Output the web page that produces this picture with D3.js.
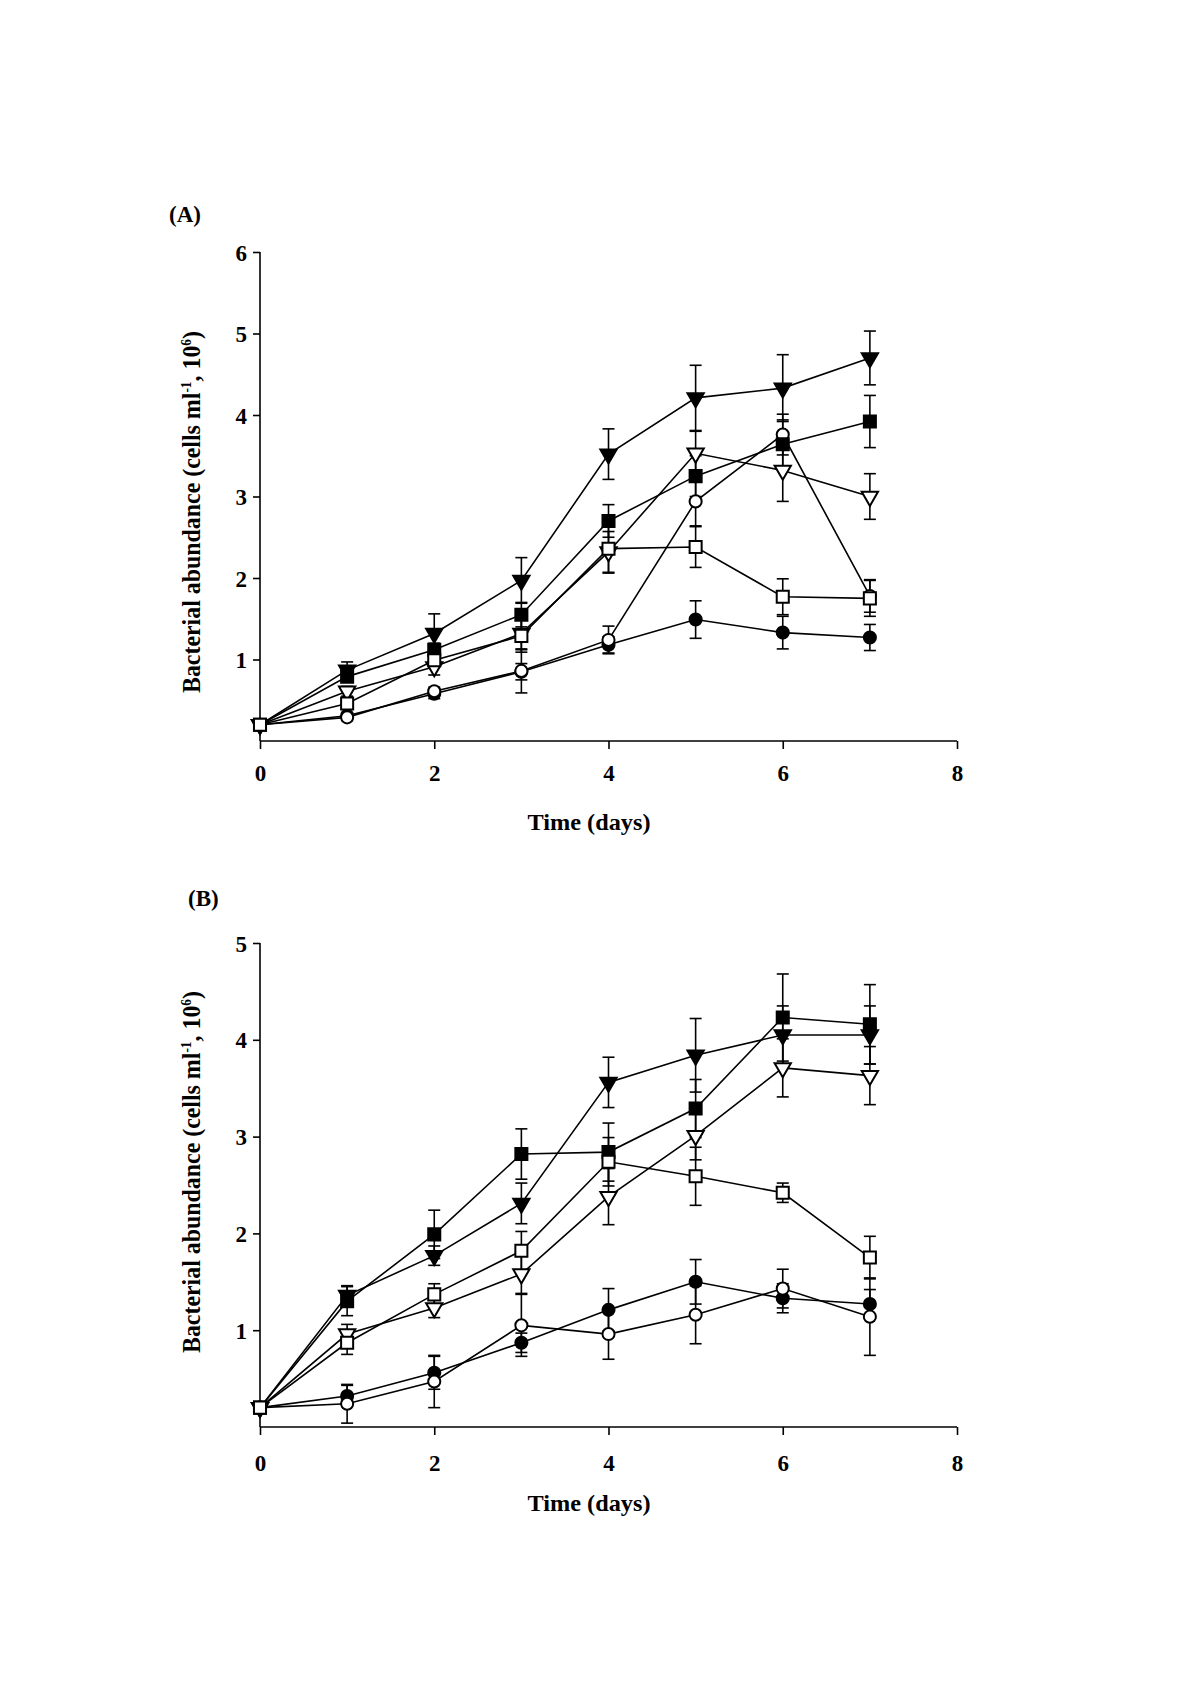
<!DOCTYPE html>
<html>
<head>
<meta charset="utf-8">
<script src="https://cdn.jsdelivr.net/npm/d3@7"></script>
<style>
  html, body { margin: 0; padding: 0; background: #fff; }
  svg { display: block; }
  text { font-family: "Liberation Serif", "Times New Roman", serif; font-weight: bold; fill: #000; }
</style>
</head>
<body>
<svg id="chart" width="1196" height="1694"></svg>
<script>
// ---------- data ----------
const days = [0, 1, 2, 3, 4, 5, 6, 7];
const xTicks = [0, 2, 4, 6, 8];
const yTicksA = [1, 2, 3, 4, 5, 6];
const yTicksB = [1, 2, 3, 4, 5];
const panelLabels = ["(A)", "(B)"];
const xTitle = "Time (days)";

// Panel A series (mean, error)
const aFilledCircle     = [0.20, 0.31, 0.58, 0.85, 1.18, 1.49, 1.33, 1.27];
const aFilledCircleErr  = [0.02, 0.04, 0.06, 0.10, 0.10, 0.23, 0.20, 0.16];
const aOpenCircle       = [0.20, 0.29, 0.61, 0.86, 1.24, 2.94, 3.76, 1.78];
const aOpenCircleErr    = [0.02, 0.04, 0.05, 0.27, 0.17, 0.30, 0.25, 0.20];
const aFilledSquare     = [0.20, 0.79, 1.12, 1.55, 2.70, 3.25, 3.64, 3.92];
const aFilledSquareErr  = [0.02, 0.06, 0.08, 0.15, 0.20, 0.25, 0.30, 0.32];
const aOpenSquare       = [0.20, 0.46, 0.99, 1.29, 2.36, 2.38, 1.77, 1.75];
const aOpenSquareErr    = [0.02, 0.05, 0.08, 0.20, 0.30, 0.25, 0.22, 0.22];
const aFilledTriangle   = [0.20, 0.87, 1.32, 1.97, 3.52, 4.21, 4.33, 4.70];
const aFilledTriangleErr= [0.02, 0.10, 0.24, 0.28, 0.31, 0.40, 0.41, 0.33];
const aOpenTriangle     = [0.20, 0.61, 0.91, 1.32, 2.32, 3.53, 3.32, 3.00];
const aOpenTriangleErr  = [0.02, 0.06, 0.10, 0.20, 0.25, 0.27, 0.38, 0.28];

// Panel B series (mean, error)
const bFilledCircle     = [0.20, 0.32, 0.56, 0.87, 1.21, 1.50, 1.33, 1.27];
const bFilledCircleErr  = [0.02, 0.11, 0.17, 0.10, 0.22, 0.23, 0.15, 0.15];
const bOpenCircle       = [0.20, 0.24, 0.47, 1.05, 0.96, 1.16, 1.43, 1.14];
const bOpenCircleErr    = [0.02, 0.20, 0.27, 0.32, 0.26, 0.30, 0.20, 0.40];
const bFilledSquare     = [0.20, 1.30, 1.99, 2.82, 2.84, 3.29, 4.23, 4.16];
const bFilledSquareErr  = [0.02, 0.15, 0.25, 0.26, 0.30, 0.30, 0.45, 0.41];
const bOpenSquare       = [0.20, 0.87, 1.37, 1.82, 2.74, 2.59, 2.42, 1.75];
const bOpenSquareErr    = [0.02, 0.12, 0.11, 0.20, 0.25, 0.30, 0.10, 0.22];
const bFilledTriangle   = [0.20, 1.36, 1.77, 2.31, 3.56, 3.84, 4.05, 4.05];
const bFilledTriangleErr= [0.02, 0.10, 0.10, 0.21, 0.26, 0.38, 0.30, 0.30];
const bOpenTriangle     = [0.20, 0.96, 1.23, 1.58, 2.38, 3.01, 3.71, 3.63];
const bOpenTriangleErr  = [0.02, 0.10, 0.10, 0.20, 0.29, 0.25, 0.30, 0.30];

// ---------- drawing ----------
const svg = d3.select("#chart");

function seriesList(fc, fce, oc, oce, fs, fse, os, ose, ft, fte, ot, ote) {
  // order = drawing order of markers (open square ends on top, as in the original)
  return [
    { shape: "circle", filled: true,  v: fc, e: fce },
    { shape: "circle", filled: false, v: oc, e: oce },
    { shape: "tri",    filled: false, v: ot, e: ote },
    { shape: "tri",    filled: true,  v: ft, e: fte },
    { shape: "square", filled: true,  v: fs, e: fse },
    { shape: "square", filled: false, v: os, e: ose }
  ];
}

const panels = [
  {
    label: panelLabels[0], labelX: 169, labelY: 222,
    yMax: 6, yTicks: yTicksA,
    top: 252, bottom: 741,
    xTickLabelY: 781, titleY: 830, ylabelCY: 512,
    series: seriesList(aFilledCircle, aFilledCircleErr, aOpenCircle, aOpenCircleErr,
                       aFilledSquare, aFilledSquareErr, aOpenSquare, aOpenSquareErr,
                       aFilledTriangle, aFilledTriangleErr, aOpenTriangle, aOpenTriangleErr)
  },
  {
    label: panelLabels[1], labelX: 188, labelY: 906,
    yMax: 5, yTicks: yTicksB,
    top: 943, bottom: 1427,
    xTickLabelY: 1471, titleY: 1511, ylabelCY: 1172,
    series: seriesList(bFilledCircle, bFilledCircleErr, bOpenCircle, bOpenCircleErr,
                       bFilledSquare, bFilledSquareErr, bOpenSquare, bOpenSquareErr,
                       bFilledTriangle, bFilledTriangleErr, bOpenTriangle, bOpenTriangleErr)
  }
];

const left = 260, right = 957;
const fontFam = "'Liberation Serif', 'Times New Roman', serif";

panels.forEach(p => {
  const x = d3.scaleLinear().domain([0, 8]).range([left, right]);
  const y = d3.scaleLinear().domain([0, p.yMax]).range([p.bottom, p.top]);
  const g = svg.append("g");

  // panel label
  g.append("text").attr("x", p.labelX).attr("y", p.labelY)
    .attr("font-size", 23).text(p.label);

  // x axis
  const xAxis = d3.axisBottom(x).tickValues(xTicks).tickSize(8).tickFormat(d3.format("d"));
  const gx = g.append("g").attr("transform", `translate(0,${p.bottom})`).call(xAxis);
  gx.select(".domain").attr("stroke", "#000").attr("stroke-width", 1.6).attr("d", `M${left},0H${right}`);
  gx.selectAll(".tick line").attr("stroke", "#000").attr("stroke-width", 1.6);
  gx.selectAll(".tick text").attr("font-size", 23).attr("y", 0).attr("dy", 0)
    .attr("transform", `translate(0,${p.xTickLabelY - p.bottom})`)
    .style("font-family", fontFam).style("font-weight", "bold");

  // y axis
  const yAxis = d3.axisLeft(y).tickValues(p.yTicks).tickSize(7).tickFormat(d3.format("d"));
  const gy = g.append("g").attr("transform", `translate(${left},0)`).call(yAxis);
  gy.select(".domain").attr("stroke", "#000").attr("stroke-width", 1.6).attr("d", `M0,${p.top}V${p.bottom}`);
  gy.selectAll(".tick line").attr("stroke", "#000").attr("stroke-width", 1.6);
  gy.selectAll(".tick text").attr("font-size", 23).attr("x", -13).attr("dy", "0.35em")
    .style("font-family", fontFam).style("font-weight", "bold");

  // x title
  g.append("text").attr("x", 589).attr("y", p.titleY).attr("text-anchor", "middle")
    .attr("font-size", 23).attr("textLength", 123).attr("lengthAdjust", "spacingAndGlyphs")
    .text(xTitle);

  // y title (rotated)
  const yt = g.append("text")
    .attr("transform", `translate(200,${p.ylabelCY}) rotate(-90)`)
    .attr("text-anchor", "middle")
    .attr("font-size", 25)
    .attr("textLength", 362).attr("lengthAdjust", "spacingAndGlyphs");
  yt.append("tspan").text("Bacterial abundance (cells ml");
  yt.append("tspan").attr("font-size", 14).attr("dy", -9).text("-1");
  yt.append("tspan").attr("dy", 9).text(", 10");
  yt.append("tspan").attr("font-size", 14).attr("dy", -9).text("6");
  yt.append("tspan").attr("dy", 9).text(")");

  const line = d3.line().x((d, i) => x(days[i])).y(d => y(d));

  // lines
  p.series.forEach(s => {
    g.append("path").attr("d", line(s.v)).attr("fill", "none")
      .attr("stroke", "#000").attr("stroke-width", 1.6);
  });

  // error bars
  p.series.forEach(s => {
    const eb = g.append("g");
    s.v.forEach((v, i) => {
      const cx = x(days[i]);
      const y1 = y(v + s.e[i]), y2 = y(v - s.e[i]);
      eb.append("line").attr("x1", cx).attr("x2", cx).attr("y1", y1).attr("y2", y2)
        .attr("stroke", "#000").attr("stroke-width", 1.6);
      [y1, y2].forEach(yy => eb.append("line")
        .attr("x1", cx - 6).attr("x2", cx + 6).attr("y1", yy).attr("y2", yy)
        .attr("stroke", "#000").attr("stroke-width", 1.6));
    });
  });

  // markers
  const sym = {
    circle: d3.symbol().type(d3.symbolCircle).size(115),
    square: d3.symbol().type(d3.symbolSquare).size(145),
    tri: d3.symbol().type(d3.symbolTriangle).size(115)
  };
  p.series.forEach(s => {
    s.v.forEach((v, i) => {
      const rot = s.shape === "tri" ? " rotate(180)" : "";
      g.append("path").attr("d", sym[s.shape]())
        .attr("transform", `translate(${x(days[i])},${y(v)})${rot}`)
        .attr("fill", s.filled ? "#000" : "#fff")
        .attr("stroke", "#000").attr("stroke-width", 2);
    });
  });
});
</script>
</body>
</html>
